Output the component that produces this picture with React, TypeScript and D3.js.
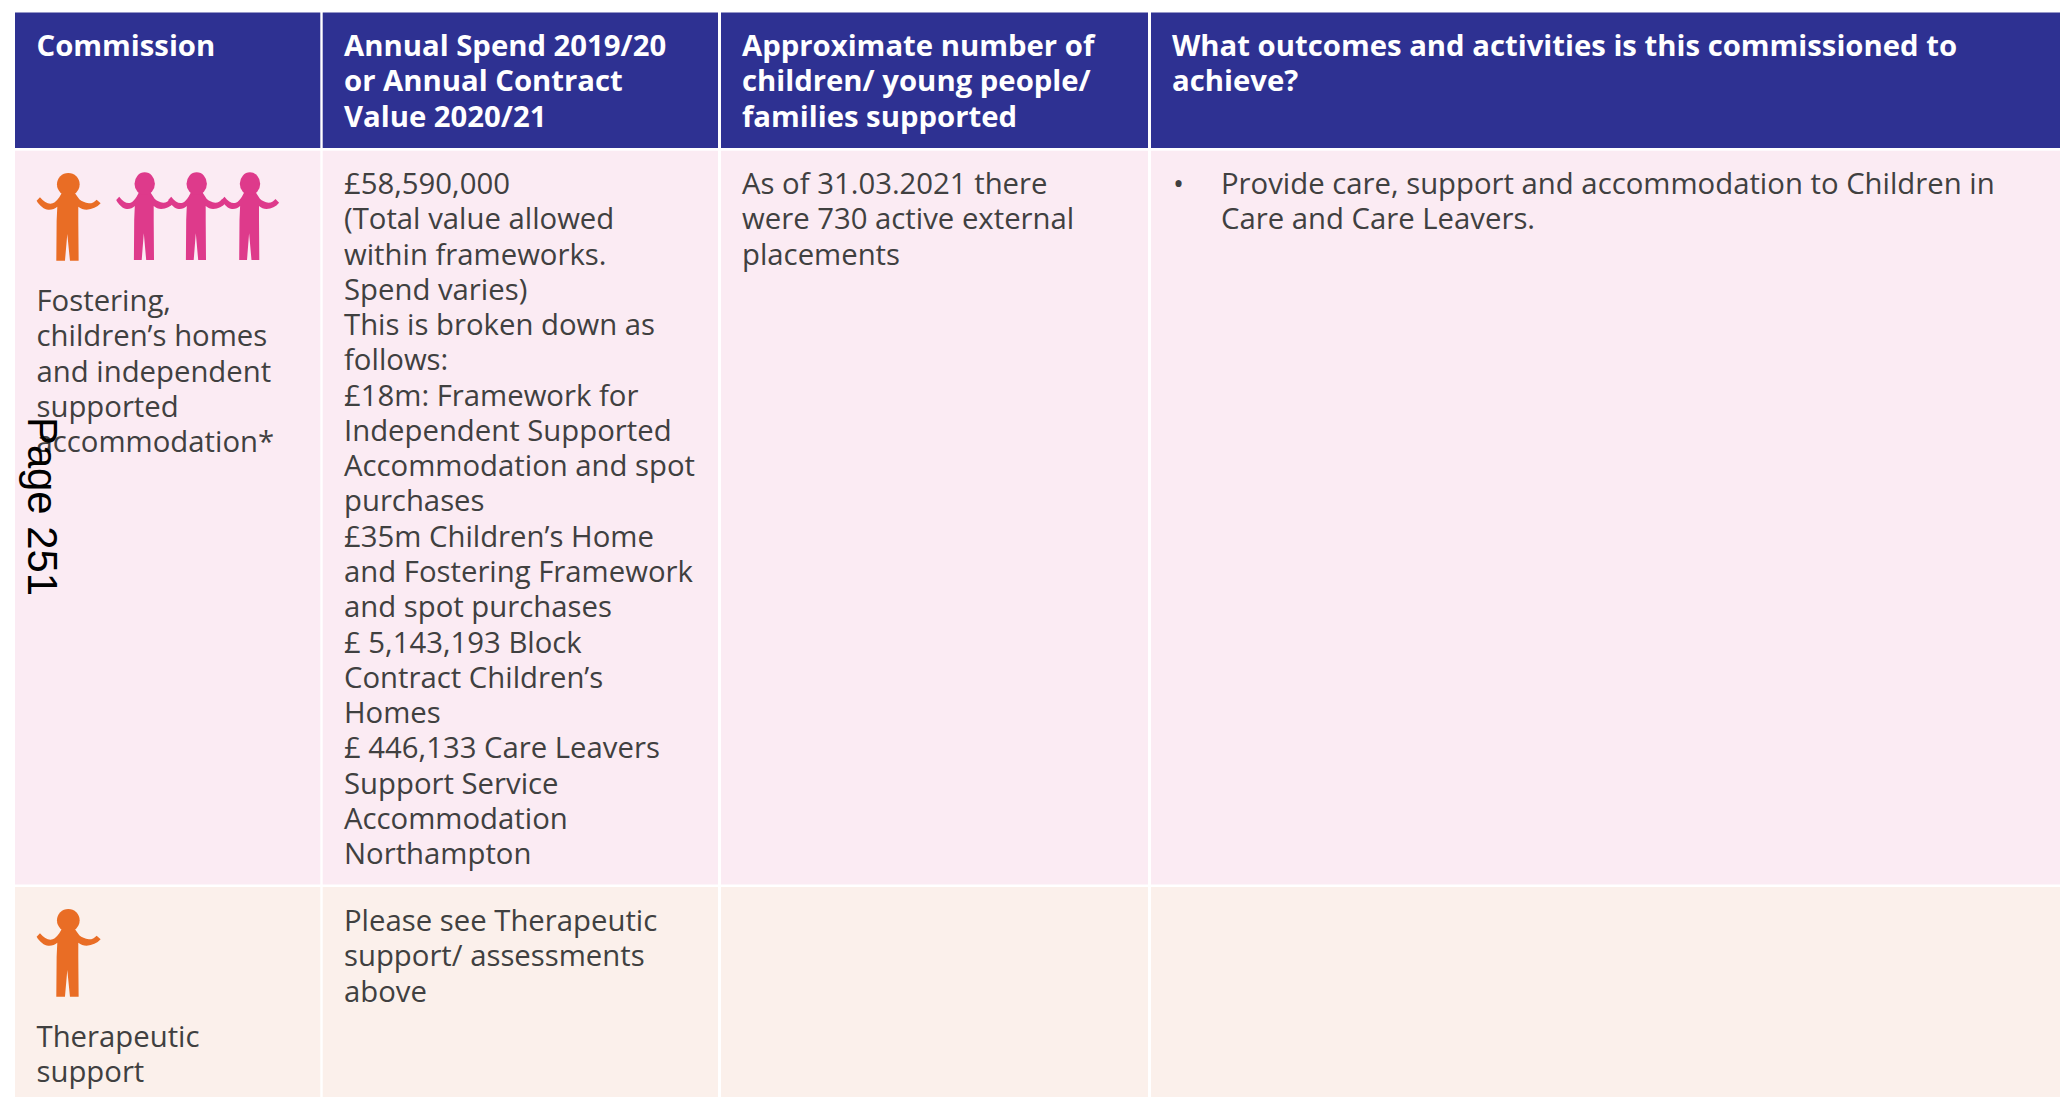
import React from 'react';
import * as d3 from 'd3';

const WIDTH = 2060;
const HEIGHT = 1097;

const columns = ['commission', 'spend', 'reach', 'outcomes'];
const rows = ['header', 'fostering', 'therapeutic'];

const headerCommission = ['Commission'];
const headerSpend = ['Annual Spend 2019/20', 'or Annual Contract', 'Value 2020/21'];
const headerReach = ['Approximate number of', 'children/ young people/', 'families supported'];
const headerOutcomes = ['What outcomes and activities is this commissioned to', 'achieve?'];

const fosteringName = ['Fostering,', 'children’s homes', 'and independent', 'supported', 'accommodation*'];
const fosteringSpend = [
  '£58,590,000',
  '(Total value allowed',
  'within frameworks.',
  'Spend varies)',
  'This is broken down as',
  'follows:',
  '£18m: Framework for',
  'Independent Supported',
  'Accommodation and spot',
  'purchases',
  '£35m Children’s Home',
  'and Fostering Framework',
  'and spot purchases',
  '£ 5,143,193 Block',
  'Contract Children’s',
  'Homes',
  '£ 446,133 Care Leavers',
  'Support Service',
  'Accommodation',
  'Northampton',
];
const fosteringReach = ['As of 31.03.2021 there', 'were 730 active external', 'placements'];
const fosteringOutcomes = ['Provide care, support and accommodation to Children in', 'Care and Care Leavers.'];

const therapeuticName = ['Therapeutic', 'support'];
const therapeuticSpend = ['Please see Therapeutic', 'support/ assessments', 'above'];

const sideLabel = 'Page 251';

const colLeft = d3.scaleOrdinal<string, number>().domain(columns).range([15, 322.7, 721, 1151]);
const colRight = d3.scaleOrdinal<string, number>().domain(columns).range([320.3, 718, 1148, WIDTH]);
const textX = d3.scaleOrdinal<string, number>().domain(columns).range([36.5, 344, 742, 1172]);
const rowTop = d3.scaleOrdinal<string, number>().domain(rows).range([12.5, 150.7, 887]);
const rowBottom = d3.scaleOrdinal<string, number>().domain(rows).range([148, 884.5, HEIGHT]);
const rowFill = d3.scaleOrdinal<string, string>().domain(rows).range(['#2e3192', '#fbebf3', '#fbf0eb']);

// child silhouette, origin at top of head / body centre line
const figure = d3.path();
figure.moveTo(-20, 62);
figure.lineTo(-27, 74);
figure.bezierCurveTo(-33, 82, -40, 90, -47, 92);
figure.bezierCurveTo(-58, 96, -72, 90, -85, 74);
figure.lineTo(-95, 84);
figure.bezierCurveTo(-86, 100, -72, 110, -60, 111);
figure.bezierCurveTo(-50, 112, -40, 108, -33, 102);
figure.lineTo(-35, 144);
figure.lineTo(-36, 264);
figure.lineTo(-10, 264);
figure.lineTo(-3, 184);
figure.lineTo(5, 264);
figure.lineTo(31, 264);
figure.lineTo(30, 144);
figure.lineTo(30, 102);
figure.bezierCurveTo(38, 108, 45, 111, 55, 111);
figure.bezierCurveTo(72, 110, 86, 104, 97, 92);
figure.lineTo(85, 81);
figure.bezierCurveTo(78, 88, 72, 92, 62, 92);
figure.bezierCurveTo(50, 90, 40, 86, 33, 80);
figure.lineTo(20, 62);
figure.closePath();
const head = d3.path();
head.arc(0, 35, 34, 0, 2 * Math.PI);

const FONT = '"Open Sans", sans-serif';
const TEXT_COLOR = '#404040';
const LINE = 35.27;
const SIZE = 29.3;

const Cell = ({ col, y, lines, bold }: { col: string; y: number; lines: string[]; bold?: boolean }) => (
  <text fontFamily={FONT} fontSize={SIZE} fontWeight={bold ? 700 : 400} fill={bold ? '#ffffff' : TEXT_COLOR}>
    {lines.map((l, i) => (
      <tspan key={i} x={textX(col)} y={y + i * LINE}>{l}</tspan>
    ))}
  </text>
);

const Child = ({ x, y, color, narrow }: { x: number; y: number; color: string; narrow?: boolean }) => (
  <g fill={color} transform={`translate(${x},${y}) scale(${(narrow ? 0.9 : 1) / 3},${1 / 3})`}>
    <path d={figure.toString()} />
    <path d={head.toString()} />
  </g>
);

const App: React.FC = () => {
  return (
    <svg width={WIDTH} height={HEIGHT} style={{ position: 'absolute', left: 0, top: 0, display: 'block' }}>
      <rect width={WIDTH} height={HEIGHT} fill="#ffffff" />
      {rows.map(r =>
        columns.map(c => (
          <rect
            key={r + c}
            x={colLeft(c)}
            y={rowTop(r)}
            width={colRight(c) - colLeft(c)}
            height={rowBottom(r) - rowTop(r)}
            fill={rowFill(r)}
          />
        ))
      )}

      <Cell col="commission" y={56} lines={headerCommission} bold />
      <Cell col="spend" y={56} lines={headerSpend} bold />
      <Cell col="reach" y={56} lines={headerReach} bold />
      <Cell col="outcomes" y={56} lines={headerOutcomes} bold />

      <Child x={68.3} y={172.7} color="#e96d25" />
      <Child x={144.7} y={172} color="#de3a8b" narrow />
      <Child x={196.7} y={172} color="#de3a8b" narrow />
      <Child x={250} y={172} color="#de3a8b" narrow />

      <Cell col="commission" y={311} lines={fosteringName} />
      <Cell col="spend" y={194} lines={fosteringSpend} />
      <Cell col="reach" y={194} lines={fosteringReach} />
      <text x={1173} y={194} fontFamily={FONT} fontSize={SIZE} fill={TEXT_COLOR}>•</text>
      <text fontFamily={FONT} fontSize={SIZE} fill={TEXT_COLOR}>
        {fosteringOutcomes.map((l, i) => (
          <tspan key={i} x={1221} y={194 + i * LINE}>{l}</tspan>
        ))}
      </text>

      <Child x={68.3} y={908.7} color="#e96d25" />
      <Cell col="commission" y={1047} lines={therapeuticName} />
      <Cell col="spend" y={931} lines={therapeuticSpend} />

      <text
        transform="translate(27.5,417) rotate(90)"
        fontFamily='"Liberation Sans", Arial, sans-serif'
        fontSize={41.8}
        fill="#000000"
      >
        {sideLabel}
      </text>
    </svg>
  );
};

export default App;
